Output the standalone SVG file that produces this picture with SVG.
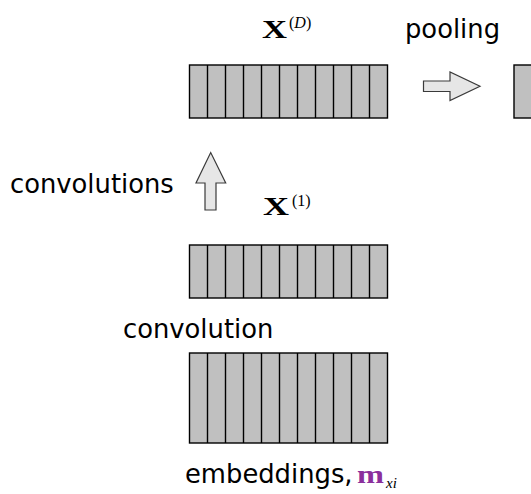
<svg xmlns="http://www.w3.org/2000/svg" width="531" height="494" viewBox="0 0 531 494">
<style>
.blk{fill:#c0c0c0;stroke:#000;stroke-width:1.4}
.div{stroke:#000;stroke-width:1.4}
.arr{fill:#e6e6e6;stroke:#3a3a3a;stroke-width:1.2;stroke-linejoin:miter}
.sans{font-family:"DejaVu Sans",sans-serif;font-size:25.8px;fill:#000}
.mx{font-family:"Liberation Serif",serif;font-weight:bold;font-size:26px;fill:#000}
.sup{font-family:"Liberation Serif",serif;font-size:16px;fill:#000}
</style>
<defs>
<g id="cells53">
<rect class="blk" x="0" y="0" width="198" height="53"/>
<path class="div" d="M18 0V53M36 0V53M54 0V53M72 0V53M90 0V53M108 0V53M126 0V53M144 0V53M162 0V53M180 0V53"/>
</g>
</defs>
<g id="xD">
<use href="#cells53" x="189.5" y="65"/>
<text class="mx" x="262" y="38" textLength="25" lengthAdjust="spacingAndGlyphs">X</text>
<text class="sup" x="289" y="28">(<tspan font-style="italic">D</tspan>)</text>
</g>
<g id="pooled">
<rect class="blk" x="514" y="65" width="40" height="53"/>
<text class="sans" x="405" y="38">pooling</text>
</g>
<g id="x1">
<use href="#cells53" x="189.5" y="245"/>
<text class="mx" x="263" y="215" textLength="26" lengthAdjust="spacingAndGlyphs">X</text>
<text class="sup" x="292" y="206">(1)</text>
</g>
<g id="embeddings">
<rect class="blk" x="189.5" y="353" width="198" height="90"/>
<path class="div" d="M207.5 353V443M225.5 353V443M243.5 353V443M261.5 353V443M279.5 353V443M297.5 353V443M315.5 353V443M333.5 353V443M351.5 353V443M369.5 353V443"/>
<text class="sans" x="185" y="483">embeddings,</text>
<text x="357" y="483" font-family="Liberation Serif,serif" font-weight="bold" font-size="26px" fill="#8b2f9c" textLength="27" lengthAdjust="spacingAndGlyphs">m</text>
<text x="386" y="488" font-family="Liberation Serif,serif" font-style="italic" font-size="15px" fill="#000">xi</text>
</g>
<g id="labels">
<text class="sans" x="10" y="193">convolutions</text>
<text class="sans" x="123" y="338">convolution</text>
</g>
<g id="connectors">
<polygon class="arr" points="423.5,81 450,81 450,72 480,86.3 450,100.5 450,91.5 423.5,91.5"/>
<polygon class="arr" points="205,210 205,183 196,183 210.7,152.5 225.7,183 216,183 216,210"/>
</g>
</svg>
